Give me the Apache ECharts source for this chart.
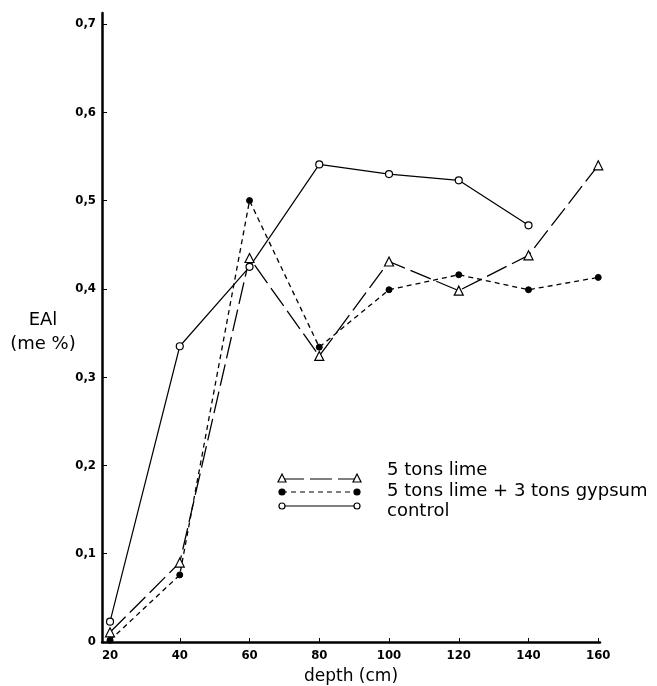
<!DOCTYPE html>
<html>
<head>
<meta charset="utf-8">
<script src="https://cdn.jsdelivr.net/npm/echarts@6/dist/echarts.min.js"></script>
<style>
  html, body { margin: 0; padding: 0; background: #fff; }
  #chart { width: 657px; height: 686px; }
</style>
</head>
<body>
<div id="chart"></div>
<script>
// depth (cm)
let depths = [20, 40, 60, 80, 100, 120, 140, 160]
let lime = [0.011, 0.090, 0.435, 0.324, 0.431, 0.398, 0.438, 0.540]
let limeGypsum = [0.002, 0.076, 0.500, 0.334, 0.399, 0.416, 0.399, 0.413]
let control = [0.023, 0.335, 0.425, 0.541, 0.530, 0.523, 0.472]
let xTicks = [20, 40, 60, 80, 100, 120, 140, 160]
let yTicks = [0, 0.1, 0.2, 0.3, 0.4, 0.5, 0.6, 0.7]
let seriesNames = ['5 tons lime', '5 tons lime + 3 tons gypsum', 'control']

function pairs(vals) {
    return vals.map((v, i) => [depths[i], v])
}

var chart = echarts.init(document.getElementById('chart'))
var tickFont = {color: '#000', fontFamily: 'DejaVu Sans Condensed', fontWeight: 'bold', fontSize: 13}

// legend drawn by hand: short line with a marker on both ends
var legendG = []
var lx0 = 282, lx1 = 357
var ly = [479, 492, 506]
var ty = [470, 491, 511]
var lineTypes = [[22, 6], [5, 4], 'solid']
seriesNames.forEach((n, i) => {
    legendG.push({
        type: 'line', shape: {x1: lx0, y1: ly[i], x2: lx1, y2: ly[i]},
        style: {stroke: '#000', lineWidth: 1.2, lineDash: lineTypes[i] === 'solid' ? null : lineTypes[i]}
    })
    ;[lx0, lx1].forEach(x => {
        if (i === 0) {
            legendG.push({type: 'polygon', shape: {points: [[x - 4, ly[i] + 3], [x + 4, ly[i] + 3], [x, ly[i] - 5]]},
                style: {fill: '#fff', stroke: '#000', lineWidth: 1.2}})
        } else {
            legendG.push({type: 'circle', shape: {cx: x, cy: ly[i], r: 3},
                style: {fill: i === 1 ? '#000' : '#fff', stroke: '#000', lineWidth: 1.2}})
        }
    })
    legendG.push({
        type: 'text',
        style: {x: 387, y: ty[i], text: n, verticalAlign: 'middle', font: '18px "DejaVu Sans"', fill: '#000'}
    })
})

chart.setOption({
    backgroundColor: '#fff',
    animation: false,
    grid: {left: 102, right: 57, top: 13, bottom: 44, containLabel: false, outerBoundsMode: 'none'},
    xAxis: {
        type: 'value', min: 17.7, max: 160.5,
        name: 'depth (cm)', nameLocation: 'middle', nameGap: 26,
        nameTextStyle: {color: '#000', fontSize: 17, fontFamily: 'DejaVu Sans'},
        axisLine: {lineStyle: {color: '#000', width: 2.5}},
        axisTick: {inside: true, length: 4, lineStyle: {color: '#000'}, customValues: xTicks},
        axisLabel: Object.assign({customValues: xTicks, margin: 7}, tickFont),
        splitLine: {show: false}
    },
    yAxis: {
        type: 'value', min: 0, max: 0.7125,
        axisLine: {show: true, lineStyle: {color: '#000', width: 2.5}},
        axisTick: {show: true, inside: true, length: 5, lineStyle: {color: '#000'}, customValues: yTicks},
        axisLabel: Object.assign({
            customValues: yTicks, margin: 6,
            formatter: v => v === 0 ? '0' : v.toFixed(1).replace('.', ',')
        }, tickFont),
        splitLine: {show: false}
    },
    graphic: legendG.concat([
        {type: 'text', style: {x: 43, y: 320, text: 'EAl', align: 'center', verticalAlign: 'middle', font: '18px "DejaVu Sans"', fill: '#000'}},
        {type: 'text', style: {x: 43, y: 344, text: '(me %)', align: 'center', verticalAlign: 'middle', font: '18px "DejaVu Sans"', fill: '#000'}}
    ]),
    series: [
        {
            name: seriesNames[0], type: 'line', data: pairs(lime),
            symbol: 'triangle', symbolSize: 9,
            itemStyle: {color: '#fff', borderColor: '#000', borderWidth: 1.2},
            lineStyle: {color: '#000', width: 1.3, type: [22, 6]}
        },
        {
            name: seriesNames[1], type: 'line', data: pairs(limeGypsum),
            symbol: 'circle', symbolSize: 6,
            itemStyle: {color: '#000', borderColor: '#000', borderWidth: 1},
            lineStyle: {color: '#000', width: 1.3, type: [5, 4]}
        },
        {
            name: seriesNames[2], type: 'line', data: pairs(control),
            symbol: 'circle', symbolSize: 7,
            itemStyle: {color: '#fff', borderColor: '#000', borderWidth: 1.2},
            lineStyle: {color: '#000', width: 1.2, type: 'solid'}
        }
    ]
})
</script>
</body>
</html>
